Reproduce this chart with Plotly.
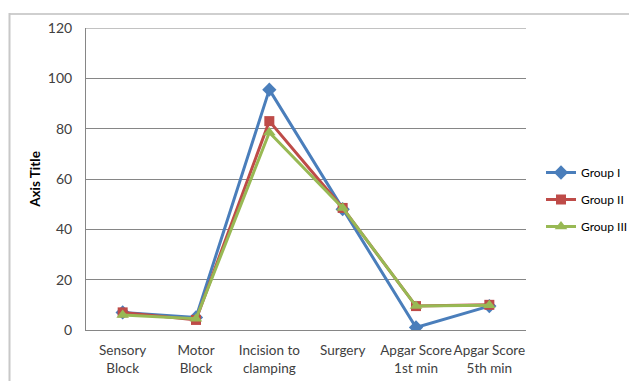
import plotly.graph_objects as go

categories = ["Sensory<br>Block", "Motor<br>Block", "Incision to<br>clamping", "Surgery",
              "Apgar Score<br>1st min", "Apgar Score<br>5th min"]
group1 = [7, 5, 95.5, 48, 1, 9.5]
group2 = [7, 4, 83, 48.5, 9.5, 10]
group3 = [6, 4.5, 78.5, 48.5, 9.5, 9.8]
y_ticks = [0, 20, 40, 60, 80, 100, 120]

OFF = 8  # default page body margin
W, H = 637 - OFF, 381 - OFF
L, R, T, B = 86 - OFF, 111, 28 - OFF, 51
pw, ph = W - L - R, H - T - B

fig = go.Figure()
series = [
    ("Group I", group1, "#4a7ebb", "diamond", 11),
    ("Group II", group2, "#be4b48", "square", 10),
    ("Group III", group3, "#98b954", "triangle-up", 11),
]
for name, vals, col, sym, sz in series:
    fig.add_trace(go.Scatter(
        x=list(range(len(categories))), y=vals, name=name, mode="lines+markers",
        line=dict(color=col, width=3), marker=dict(symbol=sym, size=sz, color=col),
        legendgroup=name,
    ))

# top gridline at 120
fig.add_shape(type="line", xref="paper", yref="y", x0=0, x1=1, y0=120, y1=120,
              line=dict(color="#868686", width=1), layer="below")

# outer chart border (top and left visible, right/bottom outside the view)
bx = 9.5 - OFF
by = 13 - OFF
ytop = (H - B - by) / ph
xleft = (bx - L) / pw
fig.add_shape(type="rect", xref="paper", yref="paper",
              x0=xleft, x1=(W - 0.5 - L) / pw, y0=ytop - 2 / ph, y1=ytop,
              line=dict(width=0), fillcolor="#cfcfcf", layer="above")
fig.add_shape(type="line", xref="paper", yref="paper",
              x0=xleft, x1=xleft, y0=ytop, y1=(H - B - H) / ph,
              line=dict(color="#c8c8c8", width=2), layer="above")

fig.update_layout(
    width=W, height=H, margin=dict(l=L, r=R, t=T, b=B, autoexpand=False),
    paper_bgcolor="white", plot_bgcolor="white",
    font=dict(family="Lato, Open Sans, sans-serif", size=13, color="#404040"),
    xaxis=dict(tickmode="array", tickvals=list(range(len(categories))), ticktext=categories,
               range=[-0.5, 5.5], showgrid=False, zeroline=False, showline=True,
               linecolor="#868686", linewidth=1, ticks="", tickfont=dict(size=13.5),
               tickangle=0, automargin=False, ticklabelstandoff=8),
    yaxis=dict(range=[0, 120], tickvals=y_ticks, showgrid=True, gridcolor="#868686", gridwidth=1,
               zeroline=False, showline=True, linecolor="#868686", linewidth=1, ticks="",
               tickfont=dict(size=14), ticklabelstandoff=10, automargin=False,
               title=dict(text="<b>Axis Title</b>", font=dict(size=13.5, color="#000000"), standoff=4)),
    legend=dict(x=(541 - OFF - L) / pw, y=(H - B - (158 - OFF)) / ph, xanchor="left", yanchor="top",
                font=dict(size=12, color="#000000"), tracegroupgap=8, itemwidth=30,
                bgcolor="rgba(0,0,0,0)"),
)

fig.write_html("out.html")
